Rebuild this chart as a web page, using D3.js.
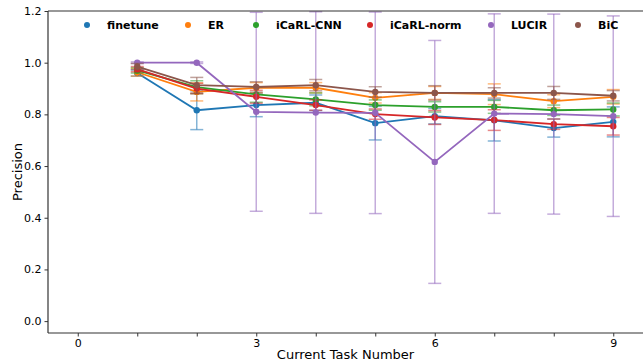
<!DOCTYPE html>
<html>
<head>
<meta charset="utf-8">
<script src="https://cdn.jsdelivr.net/npm/d3@7"></script>
<style>
  body { margin: 0; background: #fff; }
  text { font-family: "DejaVu Sans", sans-serif; }
</style>
</head>
<body>
<div id="chart-area"></div>
<script>
// task numbers on the x axis
let tasks = [1, 2, 3, 4, 5, 6, 7, 8, 9];
let methods = ["finetune", "ER", "iCaRL-CNN", "iCaRL-norm", "LUCIR", "BiC"];
let colors = ["#1f77b4", "#ff7f0e", "#2ca02c", "#d62728", "#9467bd", "#8c564b"];

let finetune   = [0.960, 0.816, 0.836, 0.845, 0.766, 0.793, 0.777, 0.747, 0.771];
let er         = [0.963, 0.887, 0.903, 0.903, 0.864, 0.883, 0.878, 0.851, 0.868];
let icarlCnn   = [0.970, 0.905, 0.877, 0.858, 0.836, 0.829, 0.829, 0.816, 0.819];
let icarlNorm  = [0.975, 0.900, 0.868, 0.836, 0.801, 0.788, 0.778, 0.762, 0.754];
let lucir      = [1.000, 1.000, 0.810, 0.807, 0.806, 0.616, 0.803, 0.801, 0.793];
let bic        = [0.985, 0.913, 0.906, 0.913, 0.887, 0.883, 0.883, 0.883, 0.872];

let finetuneErr  = [0.012, 0.075, 0.045, 0.030, 0.065, 0.030, 0.080, 0.035, 0.058];
let erErr        = [0.015, 0.035, 0.020, 0.020, 0.020, 0.025, 0.040, 0.025, 0.028];
let icarlCnnErr  = [0.010, 0.025, 0.030, 0.025, 0.020, 0.020, 0.025, 0.020, 0.025];
let icarlNormErr = [0.010, 0.020, 0.025, 0.020, 0.020, 0.027, 0.040, 0.020, 0.034];
let lucirErr     = [0.003, 0.003, 0.385, 0.390, 0.390, 0.470, 0.386, 0.387, 0.388];
let bicErr       = [0.012, 0.030, 0.020, 0.022, 0.020, 0.028, 0.020, 0.025, 0.020];

let xTicks = [0, 1, 2, 3, 4, 5, 6, 7, 8, 9];
let xLabels = [0, 3, 6, 9];
let yTicks = [0.0, 0.2, 0.4, 0.6, 0.8, 1.0, 1.2];

let values = [finetune, er, icarlCnn, icarlNorm, lucir, bic];
let errors = [finetuneErr, erErr, icarlCnnErr, icarlNormErr, lucirErr, bicErr];

let width = 643;
let height = 364;
let margin = {left: 48, top: 11, right: 0, bottom: 31};

let svg = d3.select("#chart-area")
            .append("svg")
            .attr("width", width)
            .attr("height", height);

let x = d3.scaleLinear()
          .domain([-0.5, 9.5])
          .range([margin.left, margin.left + 595]);

let y = d3.scaleLinear()
          .domain([-0.046, 1.2])
          .range([height - margin.bottom, margin.top]);

svg.append("clipPath").attr("id", "plot-clip")
   .append("rect")
   .attr("x", margin.left)
   .attr("y", margin.top)
   .attr("width", width - margin.left)
   .attr("height", height - margin.bottom - margin.top);

let plot = svg.append("g").attr("clip-path", "url(#plot-clip)");

let series = methods.map(function(m, i){
    return {
        name: m,
        color: colors[i],
        points: tasks.map(function(t, j){
            return {x: t, y: values[i][j], e: errors[i][j]};
        })
    };
});

let line = d3.line()
             .x(function(d){ return x(d.x); })
             .y(function(d){ return y(d.y); });

let cap = 6.5;

series.forEach(function(s){
    let g = plot.append("g");

    // error bars first, drawn lighter
    let eb = g.selectAll(".eb")
              .data(s.points)
              .enter()
              .append("g")
              .attr("stroke", s.color)
              .attr("stroke-opacity", 0.55)
              .attr("stroke-width", 1.5);

    eb.append("line")
      .attr("x1", function(d){ return x(d.x); })
      .attr("x2", function(d){ return x(d.x); })
      .attr("y1", function(d){ return y(d.y - d.e); })
      .attr("y2", function(d){ return y(d.y + d.e); });

    eb.append("line")
      .attr("x1", function(d){ return x(d.x) - cap; })
      .attr("x2", function(d){ return x(d.x) + cap; })
      .attr("y1", function(d){ return y(d.y - d.e); })
      .attr("y2", function(d){ return y(d.y - d.e); });

    eb.append("line")
      .attr("x1", function(d){ return x(d.x) - cap; })
      .attr("x2", function(d){ return x(d.x) + cap; })
      .attr("y1", function(d){ return y(d.y + d.e); })
      .attr("y2", function(d){ return y(d.y + d.e); });

    g.append("path")
     .datum(s.points)
     .attr("fill", "none")
     .attr("stroke", s.color)
     .attr("stroke-width", 1.8)
     .attr("d", line);

    g.selectAll("circle")
     .data(s.points)
     .enter()
     .append("circle")
     .attr("cx", function(d){ return x(d.x); })
     .attr("cy", function(d){ return y(d.y); })
     .attr("r", 3.2)
     .attr("fill", s.color);
});

// axes
let xAxis = svg.append("g")
               .attr("transform", "translate(0," + (height - margin.bottom) + ")")
               .call(d3.axisBottom(x)
                       .tickValues(xTicks)
                       .tickSize(3.5)
                       .tickPadding(3)
                       .tickFormat(function(d){ return xLabels.indexOf(d) >= 0 ? d : ""; }));

let yAxis = svg.append("g")
               .attr("transform", "translate(" + margin.left + ",0)")
               .call(d3.axisLeft(y)
                       .tickValues(yTicks)
                       .tickSize(3.5)
                       .tickPadding(3)
                       .tickFormat(d3.format(".1f")));

[xAxis, yAxis].forEach(function(a){
    a.selectAll("text").attr("font-size", 11).attr("fill", "#000")
     .style("font-family", "DejaVu Sans, sans-serif");
    a.selectAll("line").attr("stroke", "#000").attr("stroke-width", 0.8);
    a.select(".domain").remove();
});

// spines
svg.append("line")
   .attr("x1", margin.left).attr("x2", width)
   .attr("y1", height - margin.bottom).attr("y2", height - margin.bottom)
   .attr("stroke", "#333").attr("stroke-width", 1.2);
svg.append("line")
   .attr("x1", margin.left).attr("x2", width)
   .attr("y1", margin.top).attr("y2", margin.top)
   .attr("stroke", "#333").attr("stroke-width", 1.2);
svg.append("line")
   .attr("x1", margin.left).attr("x2", margin.left)
   .attr("y1", margin.top).attr("y2", height - margin.bottom)
   .attr("stroke", "#333").attr("stroke-width", 1.2);

svg.append("text")
   .attr("x", (margin.left + width) / 2)
   .attr("y", 359)
   .attr("text-anchor", "middle")
   .attr("font-size", 13)
   .text("Current Task Number");

svg.append("text")
   .attr("transform", "translate(22," + ((margin.top + height - margin.bottom) / 2) + ") rotate(-90)")
   .attr("text-anchor", "middle")
   .attr("font-size", 13)
   .text("Precision");

// legend
let legendX = [87, 188, 256, 370, 491, 578];
let legend = svg.selectAll(".legend")
                .data(series)
                .enter()
                .append("g")
                .attr("transform", function(d, i){
                    return "translate(" + legendX[i] + ",25)";
                });

legend.append("circle")
      .attr("r", 3)
      .attr("fill", function(d){ return d.color; });

legend.append("text")
      .attr("x", 20)
      .attr("dy", "0.35em")
      .attr("font-size", 11)
      .attr("font-weight", "bold")
      .text(function(d){ return d.name; });
</script>
</body>
</html>
